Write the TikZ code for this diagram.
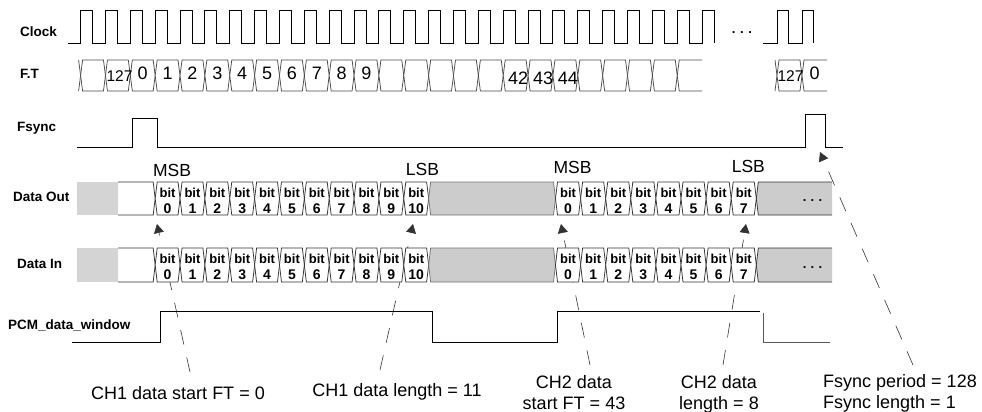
\documentclass[tikz,border=0pt]{standalone}
\usepackage{fontspec}
\setmainfont{Liberation Sans}
\usetikzlibrary{arrows.meta}
\newcommand\myhex[5]{\path[#1] ({#2},{(#4+#5)/2}) -- ({#2+2},{#4}) -- ({#3-2},{#4}) -- ({#3},{(#4+#5)/2}) -- ({#3-2},{#5}) -- ({#2+2},{#5}) -- cycle;}
\def\clkz{80.6}
\def\clkp{24.86}
\tikzset{
  sig/.style={line width=0.9pt, black},
  ftbox/.style={draw=black!70, line width=0.75pt, fill=white},
  dbox/.style={draw=black!80, line width=0.75pt, fill=white},
  dline/.style={draw=black!80, line width=0.75pt},
  gblk/.style={fill=black!20, draw=black!55, line width=0.75pt},
  rowlab/.style={font=\fontsize{13.5}{15}\selectfont\bfseries, anchor=base west, inner sep=0pt},
  ftlab/.style={font=\fontsize{18}{20}\selectfont, inner sep=0pt},
  smallft/.style={font=\fontsize{15.5}{17}\selectfont, inner sep=0pt},
  bitlab/.style={font=\fontsize{13}{14}\selectfont\bfseries, inner sep=0pt},
  bitnum/.style={font=\fontsize{14}{15}\selectfont\bfseries, inner sep=0pt},
  msb/.style={font=\fontsize{17.5}{19}\selectfont, inner sep=0pt},
  note/.style={font=\fontsize{18}{21}\selectfont, align=center, inner sep=0pt, anchor=north},
  dotsl/.style={font=\fontsize{13}{14}\selectfont\bfseries, inner sep=0pt},
  pointer/.style={black!80, line width=0.6pt, dash pattern=on 15pt off 13pt, -{Triangle[width=10pt,length=9pt]}}
}
\newcommand\datarow[3]{%
  \fill[black!17] (77,#1) rectangle (118,#2);
  \draw[dline] (118,#1) -- ({\clkz+\clkp*3-2},#1) -- ({\clkz+\clkp*3},{(#1+#2)/2}) -- ({\clkz+\clkp*3-2},#2) -- (118,#2);
  \foreach \j in {0,...,10} {
    \myhex{dbox}{\clkz+\clkp*(\j+3)}{\clkz+\clkp*(\j+4)}{#1}{#2}
    \node[bitlab] (#3a\j) at ({\clkz+\clkp*(\j+3.5)},{#1+10.5}) {bit};
    \node[bitnum] (#3b\j) at ({\clkz+\clkp*(\j+3.5)},{#1+27}) {\j};
  }
  \myhex{gblk}{\clkz+\clkp*14}{555.5}{#1}{#2}
  \foreach \j in {0,...,7} {
    \myhex{dbox}{555.5+25.1*\j}{555.5+25.1*(\j+1)}{#1}{#2}
    \node[bitlab] (#3c\j) at ({555.5+25.1*(\j+0.5)},{#1+10.5}) {bit};
    \node[bitnum] (#3d\j) at ({555.5+25.1*(\j+0.5)},{#1+27}) {\j};
  }
  \fill[black!20] (756.3,{(#1+#2)/2}) -- (758.3,#1) -- (832,#1) -- (832,#2) -- (758.3,#2) -- cycle;
  \draw[dline] (832,#1) -- (758.3,#1) -- (756.3,{(#1+#2)/2}) -- (758.3,#2) -- (832,#2);
  \node[dotsl] (#3e) at (812.5,{(#1+#2)/2+2.5}) {.\hspace{4.3pt}.\hspace{4.3pt}.};
}
\begin{document}
\begin{tikzpicture}[x=1pt,y=-1pt]
\useasboundingbox (0,0) rectangle (982,412);

% ---------- annotation labels and pointers (drawn first, rows hide them)
\node[note] (lblA) at (178,386) {CH1 data start FT = 0};
\node[note] (lblB) at (397,383) {CH1 data length = 11};
\node[note] (lblC) at (574,375) {CH2 data\\start FT = 43};
\node[note] (lblD) at (719,375) {CH2 data\\length = 8};
\node[note, align=left, anchor=north west] (lblE) at (823,374.5) {Fsync period = 128\\Fsync length = 1};

\coordinate (footA) at (190,372);
\coordinate (footB) at (380,370);
\coordinate (footC) at (590,365);
\coordinate (footD) at (723,365);
\coordinate (footE) at (913,365);
\coordinate (tipA) at (157,224);
\coordinate (tipB) at (413,224);
\coordinate (tipC) at (561,224);
\coordinate (tipD) at (746,224);
\coordinate (tipE) at (820,152);
\draw[pointer] (footA) -- (tipA);
\draw[pointer] (footB) -- (tipB);
\draw[pointer] (footC) -- (tipC);
\draw[pointer] (footD) -- (tipD);
\draw[pointer] (footE) -- (tipE);

% ---------- row labels
\node[rowlab] (lClock) at (20,36.5) {Clock};
\node[rowlab] (lFT) at (20,78) {F.T};
\node[rowlab] (lFs) at (17,131.5) {Fsync};
\node[rowlab] (lDO) at (13,201.5) {Data Out};
\node[rowlab] (lDI) at (17,268) {Data In};
\node[rowlab] (lPCM) at (8,329.7) {PCM\_data\_window};

% ---------- clock
\draw[sig] (68,43) \foreach \k in {0,...,25}{ -- ({\clkz+\clkp*\k},43) -- ({\clkz+\clkp*\k},10) -- ({\clkz+\clkp*\k+12},10) -- ({\clkz+\clkp*\k+12},43) };
\draw[sig] (763,43) -- (777,43) -- (777,10) -- (788,10) -- (788,43) -- (802,43) -- (802,10) -- (813,10) -- (813,43);
\node[dotsl] (clkdots) at (742,33) {.\hspace{4.6pt}.\hspace{4.6pt}.};

% ---------- F.T
\draw[ftbox] (78.6,60) -- (\clkz,75.5) -- (78.6,91);
\foreach \k in {0,...,23} {\myhex{ftbox}{\clkz+\clkp*\k}{\clkz+\clkp*(\k+1)}{60}{91}}
\draw[ftbox] (702,60) -- ({\clkz+\clkp*24+2},60) -- ({\clkz+\clkp*24},75.5) -- ({\clkz+\clkp*24+2},91) -- (702,91);
\node[smallft] (ft1) at (119.5,76) {127};
\foreach \k [evaluate=\k as \v using int(\k-2)] in {2,...,11} {\node[ftlab] (ft\k) at ({\clkz+\clkp*(\k+0.5)},73.5) {\v};}
\foreach \k/\t in {17/42,18/43,19/44} {\node[ftlab] (ft\k) at ({\clkz+\clkp*(\k+0.5)+2.5},78.3) {\t};}
\draw[ftbox] (775,60) -- (777,75.5) -- (775,91);
\myhex{ftbox}{777}{802}{60}{91}
\draw[ftbox] (827,60) -- (804,60) -- (802,75.5) -- (804,91) -- (827,91);
\node[smallft] (ftR1) at (790.5,76) {127};
\node[ftlab] (ftR2) at (814.5,73.5) {0};

% ---------- Fsync
\draw[sig] (77,147) -- (132,147) -- (132,118.3) -- (157,118.3) -- (157,147) -- (805.7,147) -- (805.7,114.5) -- (825.7,114.5) -- (825.7,147) -- (843,147);

% ---------- MSB / LSB
\node[msb] (msb1) at (172,170) {MSB};
\node[msb] (lsb1) at (422.5,169) {LSB};
\node[msb] (msb2) at (572.5,167) {MSB};
\node[msb] (lsb2) at (748.3,166.3) {LSB};

% ---------- data rows
\datarow{182}{215}{DO}
\datarow{248}{282}{DI}

% ---------- PCM data window
\draw[sig] (72,342) -- (160,342) -- (160,311) -- (432,311) -- (432,342) -- (557,342) -- (557,311) -- (760,311);
\draw[sig, black!65] (763,313) -- (763,342) -- (830,342);
\end{tikzpicture}
\end{document}
